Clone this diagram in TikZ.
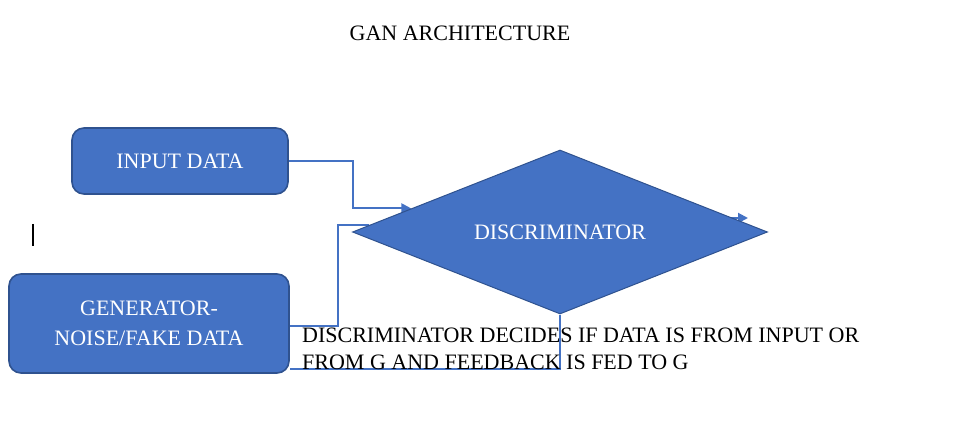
\documentclass[tikz,border=0pt]{standalone}
\usepackage{fontspec}
\setmainfont{Liberation Serif}
\usetikzlibrary{shapes.geometric, arrows.meta, backgrounds}
\definecolor{wordblue}{HTML}{4472C4}
\definecolor{wordedge}{HTML}{2F528F}
\begin{document}
\begin{tikzpicture}
        [x=1pt, y=-1pt, font=\fontsize{22}{30}\selectfont,
        block/.style={draw=wordedge, fill=wordblue, line width=1.6pt, rounded corners=12pt, text=white, align=center},
        judge/.style={draw=wordedge, fill=wordblue, line width=1pt, shape=diamond, aspect=2.5, minimum width=415pt, minimum height=164pt, inner sep=0, text=white},
        link/.style={draw=wordblue, line width=2pt}]

        \useasboundingbox (0,0) rectangle (960,430);

        \node (title) at (460,33) {GAN ARCHITECTURE};
        \node[block, minimum width=216pt, minimum height=66pt] (inp) at (180,161) {INPUT DATA};
        \node[block, minimum width=280pt, minimum height=99pt] (gen) at (149,323.5) {GENERATOR-\\NOISE/FAKE DATA};
        \node[judge] (disc) at (560,232) {DISCRIMINATOR};
        \coordinate (out) at (748,218);

        \begin{scope}[on background layer]
          \draw[link, -{Triangle[length=10pt,width=10pt]}] (inp.east) -- ++(64,0) |- (disc.171.5);
          \draw[link] (gen.east) ++(0,2) -- ++(48,0) |- (disc.178.5);
          \draw[link, -{Triangle[length=10pt,width=10pt]}] (disc.center |- out) -- (out);
          \draw[link] (disc.south) |- ([yshift=5pt]gen.south east);
        \end{scope}

        \draw[line width=1.5pt] (33,224) -- (33,246);

        \node[anchor=north west, align=left, inner sep=0, font=\fontsize{22}{27}\selectfont] (note) at (302,328)
          {DISCRIMINATOR DECIDES IF DATA IS FROM INPUT OR\\FROM G AND FEEDBACK IS FED TO G};
      \end{tikzpicture}
\end{document}
